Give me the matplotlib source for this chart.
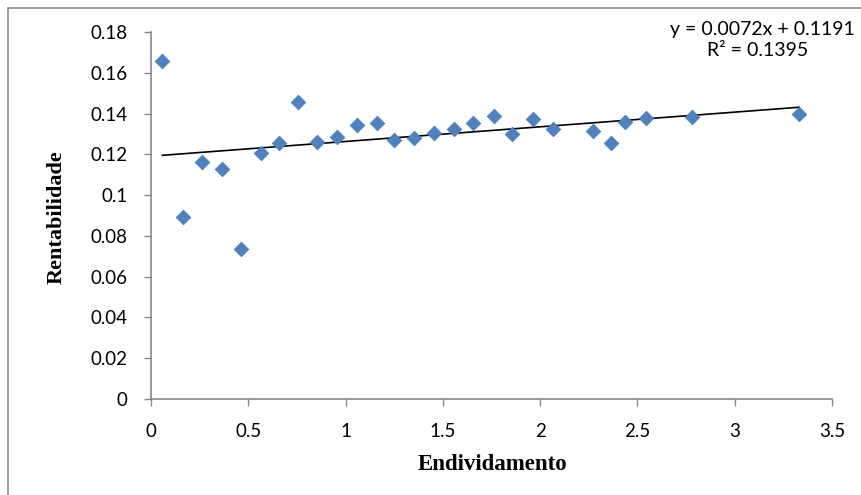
import matplotlib
matplotlib.use("Agg")
import matplotlib.pyplot as plt
import numpy as np
from matplotlib.patches import Rectangle

endividamento = [0.058, 0.163, 0.264, 0.365, 0.464, 0.564, 0.658, 0.757, 0.853, 0.954,
                 1.057, 1.161, 1.249, 1.351, 1.456, 1.559, 1.656, 1.763, 1.853, 1.963,
                 2.064, 2.270, 2.365, 2.437, 2.545, 2.780, 3.331]
rentabilidade = [0.1658, 0.0894, 0.1162, 0.1127, 0.0734, 0.1205, 0.1254, 0.1457, 0.1262, 0.1286,
                 0.1345, 0.1355, 0.1270, 0.1282, 0.1306, 0.1323, 0.1355, 0.1389, 0.1300, 0.1373,
                 0.1324, 0.1313, 0.1254, 0.1359, 0.1377, 0.1383, 0.1398]
slope = 0.0072
intercept = 0.1191
eq_text = "y = 0.0072x + 0.1191"
r2_text = "R² = 0.1395"
xticks = [0, 0.5, 1, 1.5, 2, 2.5, 3, 3.5]
yticks = [0, 0.02, 0.04, 0.06, 0.08, 0.1, 0.12, 0.14, 0.16, 0.18]

fig = plt.figure(figsize=(8.62, 4.95), dpi=100)
fig.patches.append(Rectangle((8/862, -0.1), 1.2, 1 - 8/495 + 0.1, transform=fig.transFigure,
                             fill=False, edgecolor='#8c8c8c', linewidth=1.2))
ax = fig.add_axes([151/862, 1 - 399/495, (832 - 151)/862, (399 - 32)/495])

ax.scatter(endividamento, rentabilidade, marker='D', s=7.5**2, color='#4F81BD',
           edgecolors='#4A7EBB', linewidths=0.5, zorder=3)
xs = np.array([min(endividamento), max(endividamento)])
ax.plot(xs, slope * xs + intercept, color='black', linewidth=1.2, zorder=2)

ax.set_xlim(0, 3.5)
ax.set_ylim(0, 0.18)
ax.set_xticks(xticks)
ax.set_yticks(yticks)
ax.set_xticklabels([f"{t:g}" for t in xticks], fontsize=13.5, family='Lato')
ax.set_yticklabels([f"{t:g}" for t in yticks], fontsize=13.5, family='Lato')
for s in ['top', 'right']:
    ax.spines[s].set_visible(False)
for s in ['left', 'bottom']:
    ax.spines[s].set_color('#868686')
    ax.spines[s].set_linewidth(1.2)
ax.tick_params(axis='both', direction='out', length=5, width=1, color='#868686', pad=12)

fig.text(57/862, 1 - 217/495, "Rentabilidade", rotation=90, ha='center', va='center',
         fontsize=16, fontweight='bold', family='Liberation Serif')
fig.text(492/862, 1 - 464/495, "Endividamento", ha='center', va='center',
         fontsize=16.5, fontweight='bold', family='Liberation Serif')
fig.text(762/862, 1 - 35/495, eq_text, ha='center', va='baseline', fontsize=14, family='Lato')
fig.text(758/862, 1 - 56/495, r2_text, ha='center', va='baseline', fontsize=14, family='Lato')

fig.savefig("out.png", dpi=100)
